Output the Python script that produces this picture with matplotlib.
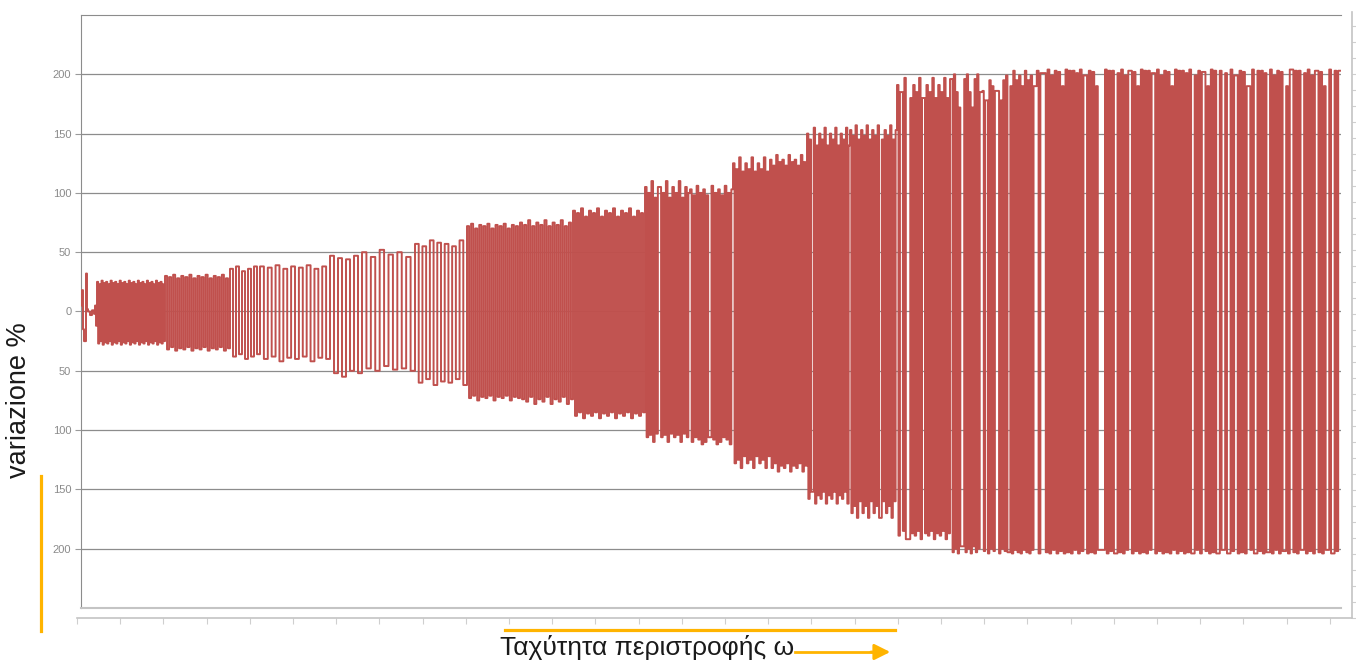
import numpy as np
import matplotlib
matplotlib.use("Agg")
from matplotlib import pyplot as plt
from matplotlib.lines import Line2D
from matplotlib.ticker import MultipleLocator

plt.rcParams['font.family'] = ['Liberation Sans', 'DejaVu Sans']

# --- data (x = rotation speed index, y = variation %) ---
transient_x = [0, 1, 2, 3, 5, 6, 7, 9, 11, 13, 14, 15]
transient_y = [5, 18, -15, -25, 32, 2, 0, -3, 1, -2, 5, -12]

# oscillation blocks: start, end, peak levels seen in the block, number of cycles
seg_start  = [16, 84, 149, 179, 249, 281, 334, 386, 439, 492, 564, 609, 652, 689, 726, 769, 816, 869, 900, 925, 954]
seg_end    = [84, 149, 179, 249, 281, 334, 386, 439, 492, 564, 609, 652, 689, 726, 769, 816, 869, 900, 925, 954, 1259]
seg_upper  = [(25, 23, 26, 24), (30, 29, 31, 28), (36, 38, 34), (38, 37, 39, 36),
              (47, 45, 44), (50, 46, 52, 48), (57, 55, 60, 58), (72, 74, 70, 73),
              (75, 73, 77, 72), (85, 83, 87, 80), (105, 100, 110, 96), (103, 98, 106, 100),
              (125, 120, 130, 118), (128, 123, 132, 126), (150, 145, 155, 140),
              (153, 148, 157, 145), (191, 185, 197, 180), (196, 200, 185, 172),
              (186, 178, 195, 190), (199, 190, 203, 195),
              (203, 201, 204, 199, 203, 202, 190, 204, 203)]
seg_lower  = [(-27, -25, -28, -26), (-32, -30, -33, -31), (-38, -36, -40), (-40, -38, -42, -39),
              (-52, -55, -50), (-48, -50, -46, -49), (-60, -57, -62, -59), (-73, -71, -75, -72),
              (-74, -76, -72, -78), (-88, -85, -90, -86), (-106, -104, -110, -103),
              (-110, -106, -108, -112), (-128, -125, -132, -122), (-132, -128, -135, -130),
              (-158, -152, -162, -155), (-170, -164, -174, -160), (-189, -185, -192, -187),
              (-203, -200, -204, -198), (-202, -204, -200), (-203, -204, -201),
              (-204, -203, -204, -201, -204, -202)]
seg_cycles = [30, 16, 5, 9, 4, 6, 7, 13, 13, 18, 14, 13, 12, 12, 16, 17, 18, 12, 9, 10, 85]

# places where the signal holds a level (white bands in the dense part)
gaps = [(578, 579), (628, 629), (731, 732), (799, 800),
        (819, 821), (826, 828), (842, 843), (865, 866), (870, 871), (880, 883),
        (899, 900), (905, 906), (915, 917), (921, 922), (927, 928), (953, 955),
        (960, 964), (1003, 1006), (1017, 1023), (1033, 1035), (1042, 1043),
        (1048, 1050), (1071, 1073), (1080, 1081), (1111, 1113), (1121, 1123),
        (1137, 1138), (1142, 1143), (1147, 1148), (1154, 1155), (1166, 1168),
        (1173, 1175), (1186, 1188), (1203, 1205), (1210, 1211), (1221, 1223),
        (1229, 1230), (1235, 1236), (1245, 1247), (1251, 1252)]

yticks = [200, 150, 100, 50, 0, -50, -100, -150, -200]
ytick_labels = [str(abs(v)) for v in yticks]

xs = list(transient_x)
ys = list(transient_y)
for s, e, ups, los, n in zip(seg_start, seg_end, seg_upper, seg_lower, seg_cycles):
    edges = np.linspace(s, e, 2 * n, endpoint=False)
    keep = [t for t in edges if not any(a <= t <= b for a, b in gaps)]
    for k, t in enumerate(keep):
        xs.append(t)
        if k % 2 == 0:
            ys.append(ups[(k // 2) % len(ups)])
        else:
            ys.append(los[(k // 2) % len(los)])
xs.append(seg_end[-1])
ys.append(ys[-1])

W, H = 1356, 664
fig = plt.figure(figsize=(W / 100, H / 100), dpi=100)

# outer frame with small ticks (bottom and right)
ax2 = fig.add_axes([77 / W, 1 - 618 / H, (1352 - 77) / W, (618 - 12) / H], zorder=0)
ax2.patch.set_visible(False)
ax2.set_xlim(0, 1275)
ax2.set_ylim(0, 606)
for sp in ["top", "left"]:
    ax2.spines[sp].set_visible(False)
for sp in ["bottom", "right"]:
    ax2.spines[sp].set_color("#c4c4c4")
    ax2.spines[sp].set_linewidth(1.2)
ax2.xaxis.set_major_locator(MultipleLocator(43.2))
ax2.yaxis.set_major_locator(MultipleLocator(16))
ax2.yaxis.tick_right()
ax2.tick_params(axis="both", direction="out", length=4, color="#cfcfcf",
                labelbottom=False, labelright=False, labelleft=False)

# main plot
ax = fig.add_axes([81 / W, 1 - 608 / H, (1341 - 81) / W, (608 - 15) / H], zorder=1)
ax.patch.set_visible(False)
ax.step(xs, ys, where="post", color="#C0504D", lw=1.4, zorder=3, snap=False)
ax.set_xlim(0, 1260)
ax.set_ylim(-250, 250)
ax.set_yticks(yticks)
ax.set_yticklabels(ytick_labels)
ax.set_xticks([])
ax.grid(axis="y", color="#8c8c8c", lw=0.9)
ax.set_axisbelow(True)
ax.spines["right"].set_visible(False)
ax.spines["top"].set_color("#8c8c8c")
ax.spines["left"].set_color("#8c8c8c")
ax.spines["bottom"].set_color("#c4c4c4")
ax.spines["bottom"].set_linewidth(1.5)
ax.tick_params(axis="y", length=4, color="#9a9a9a", labelcolor="#8a8a8a",
               labelsize=8, pad=3)

# labels and orange marks
fig.text(19 / W, 1 - 400 / H, "variazione %", rotation=90, ha="center", va="center",
         fontsize=19.5, color="#1a1a1a")
fig.text(500 / W, 1 - 648 / H, "Ταχύτητα περιστροφής ω", ha="left", va="center",
         fontsize=19, color="#1a1a1a")

orange = "#FFB400"
fig.add_artist(Line2D([41 / W, 41 / W], [1 - 476 / H, 1 - 631 / H], color=orange, lw=2.3))
fig.add_artist(Line2D([505 / W, 895 / W], [1 - 630 / H, 1 - 630 / H], color=orange, lw=2.3))
fig.add_artist(Line2D([795 / W, 875 / W], [1 - 652 / H, 1 - 652 / H], color=orange, lw=2))
ax.annotate("", xy=(893 / W, 1 - 652 / H), xytext=(868 / W, 1 - 652 / H),
            xycoords="figure fraction", textcoords="figure fraction",
            arrowprops=dict(arrowstyle="-|>", color=orange, lw=2, mutation_scale=24))

plt.savefig("out.png", dpi=100)
